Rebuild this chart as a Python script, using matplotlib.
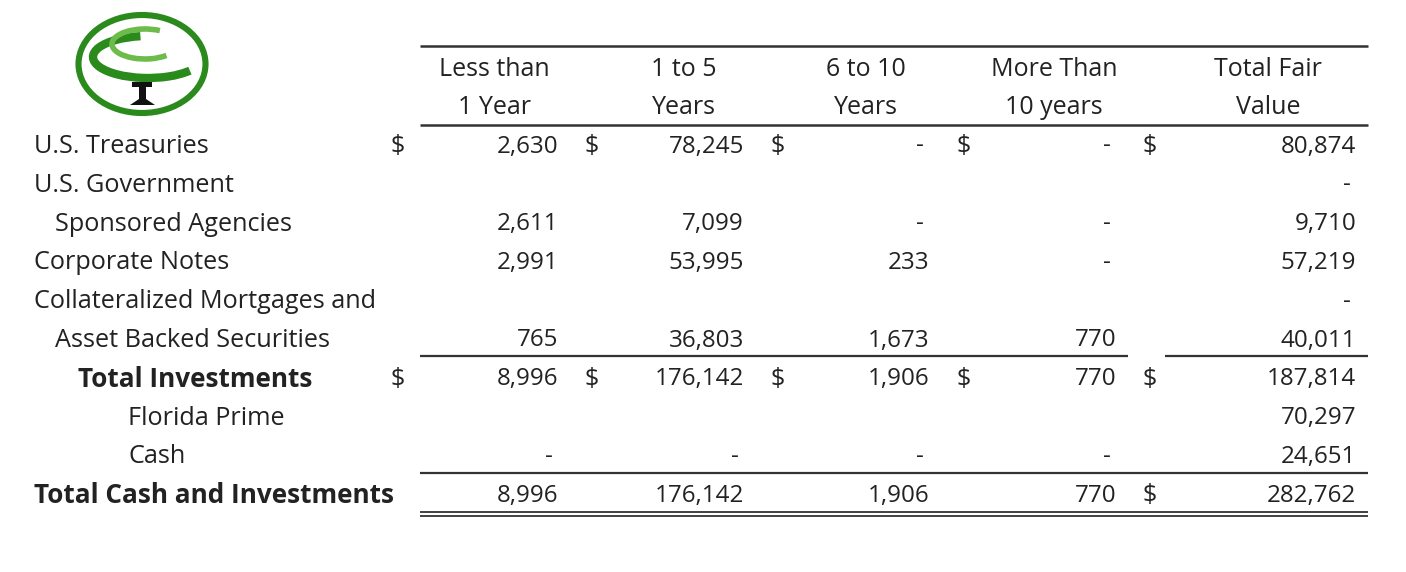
import matplotlib
matplotlib.use("Agg")
import matplotlib.pyplot as plt
from matplotlib.patches import Ellipse, Arc, Polygon

# ---------------- data ----------------
row_labels = ["U.S. Treasuries", "U.S. Government", "Sponsored Agencies",
              "Corporate Notes", "Collateralized Mortgages and",
              "Asset Backed Securities", "Total Investments", "Florida Prime",
              "Cash", "Total Cash and Investments"]
row_indent = [0, 0, 1, 0, 0, 1, 2, 3, 3, 0]
row_bold = [False, False, False, False, False, False, True, False, False, True]

headers = [("Less than", "1 Year"), ("1 to 5", "Years"), ("6 to 10", "Years"),
           ("More Than", "10 years"), ("Total Fair", "Value")]

# None = blank cell, 0 = dash
less_than_1 = [2630, None, 2611, 2991, None, 765, 8996, None, 0, 8996]
one_to_5 = [78245, None, 7099, 53995, None, 36803, 176142, None, 0, 176142]
six_to_10 = [0, None, 0, 233, None, 1673, 1906, None, 0, 1906]
more_than_10 = [0, None, 0, 0, None, 770, 770, None, 0, 770]
total_fair = [80874, 0, 9710, 57219, 0, 40011, 187814, 70297, 24651, 282762]
columns = [less_than_1, one_to_5, six_to_10, more_than_10, total_fair]

# rows that carry dollar signs: row index -> which value columns
dollar_rows = {0: [0, 1, 2, 3, 4], 6: [0, 1, 2, 3, 4], 9: [4]}

# ---------------- layout ----------------
W, H = 1406, 572
fig = plt.figure(figsize=(W / 100, H / 100), dpi=100)
ax = fig.add_axes([0, 0, 1, 1])
ax.set_xlim(0, W)
ax.set_ylim(H, 0)
ax.axis("off")

FONT = "Open Sans"
FS_LAB = 18.2
FS_BOLD = 18.8
FS_HEAD = 18.0
FS_NUM = 17.4
TXT = "#222222"
DY = 1.5  # small downward nudge of text baselines

row_y0, row_dy = 145, 38.8
indent_x = [34, 55, 78, 128]
val_right = [558, 744, 929, 1116, 1356]
dollar_x = [398, 592, 778, 964, 1150]   # dollar sign before each value column
head_x = [494, 684, 866, 1054, 1268]

def txt(x, y, s, ha, fs, bold=False):
    ax.text(x, y + DY, s, ha=ha, va="center", fontsize=fs, family=FONT, color=TXT,
            fontweight="bold" if bold else "normal")

for i, (h1, h2) in enumerate(headers):
    txt(head_x[i], 68, h1, "center", FS_HEAD)
    txt(head_x[i], 106, h2, "center", FS_HEAD)

for r, lab in enumerate(row_labels):
    y = row_y0 + r * row_dy
    txt(indent_x[row_indent[r]], y, lab, "left",
        FS_BOLD if row_bold[r] else FS_LAB, row_bold[r])
    for c, col in enumerate(columns):
        v = col[r]
        if v is None:
            continue
        if v == 0:
            txt(val_right[c] - 5, y, "-", "right", FS_NUM)
        else:
            txt(val_right[c], y, f"{v:,}", "right", FS_NUM)
    for c in dollar_rows.get(r, []):
        txt(dollar_x[c], y, "$", "center", FS_NUM + 0.6)

LC = "#333333"
def hline(x0, x1, y, lw=1.6):
    ax.plot([x0, x1], [y, y], color=LC, lw=lw, solid_capstyle="butt")

hline(420, 1368, 46, 1.8)
hline(420, 1368, 124.5, 1.8)
hline(420, 1128, 356)
hline(1165, 1368, 356)
hline(420, 1368, 473)
hline(420, 1368, 511.5, 1.3)
hline(420, 1368, 515.5, 1.3)

# ---------------- logo ----------------
G = "#2a8a1c"
ax.add_patch(Ellipse((142, 64), 127, 98, fill=False, ec=G, lw=4.4))
# dark green crescent (opening to the right, tail at lower right)
ax.add_patch(Arc((148, 57), 110, 42, theta1=18, theta2=250, ec=G, lw=6))
# light green swoosh
ax.add_patch(Arc((145, 44), 66, 30, theta1=28, theta2=318, ec="#6dbb4b", lw=4))
# trunk
ax.add_patch(Polygon([[132, 82], [152, 82], [152, 87], [146, 87], [146, 99], [155, 105],
                      [130, 105], [139, 99], [139, 87], [132, 87]],
                     closed=True, fc="#111111", ec="none"))

fig.savefig("out.png", dpi=100, facecolor="white")
